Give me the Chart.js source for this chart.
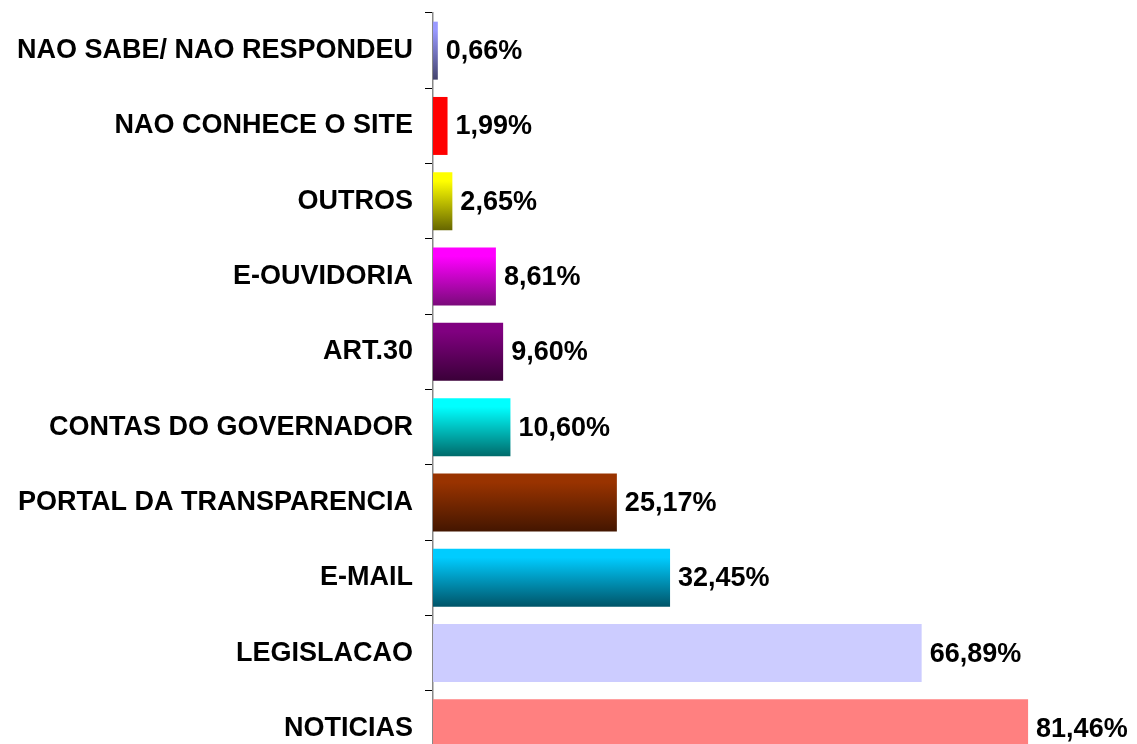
<!DOCTYPE html>
<html>
<head>
<meta charset="utf-8">
<script src="https://cdn.jsdelivr.net/npm/chart.js@4"></script>
<style>
  html, body { margin: 0; padding: 0; background: #fff; overflow: hidden; }
</style>
</head>
<body>
<canvas id="barChart" width="1137" height="766"></canvas>
<script>
let categories = [
    "NAO SABE/ NAO RESPONDEU",
    "NAO CONHECE O SITE",
    "OUTROS",
    "E-OUVIDORIA",
    "ART.30",
    "CONTAS DO GOVERNADOR",
    "PORTAL DA TRANSPARENCIA",
    "E-MAIL",
    "LEGISLACAO",
    "NOTICIAS"
];

let percentValues = [0.66, 1.99, 2.65, 8.61, 9.60, 10.60, 25.17, 32.45, 66.89, 81.46];

// cor de cima / cor de baixo de cada barra
let topColors = ["#9a9aff", "#ff0000", "#ffff00", "#ff00ff", "#800080", "#00ffff", "#993300", "#00ccff", "#ccccff", "#ff8080"];
let bottomColors = ["#44446e", "#ff0000", "#666600", "#7a0a7a", "#3a0038", "#006b6b", "#441600", "#005468", "#ccccff", "#ff8080"];

function barColor(context) {
    let chart = context.chart;
    let i = context.dataIndex;
    let area = chart.chartArea;
    if (!area || topColors[i] == bottomColors[i]) {
        return topColors[i];
    }
    let yScale = chart.scales.y;
    let band = (area.bottom - area.top) / categories.length;
    let center = yScale.getPixelForValue(i);
    let half = band * 0.77 / 2;
    let grad = chart.ctx.createLinearGradient(0, center - half, 0, center + half);
    grad.addColorStop(0, topColors[i]);
    grad.addColorStop(0.15, topColors[i]);
    grad.addColorStop(1, bottomColors[i]);
    return grad;
}

// rotulos de valor ao lado das barras
const valueLabels = {
    id: "valueLabels",
    afterDatasetsDraw(chart) {
        let ctx = chart.ctx;
        let meta = chart.getDatasetMeta(0);
        ctx.save();
        ctx.font = "bold 27px 'Liberation Sans', Arial, sans-serif";
        ctx.fillStyle = "#000";
        ctx.textAlign = "left";
        ctx.textBaseline = "middle";
        meta.data.forEach((bar, i) => {
            let text = percentValues[i].toFixed(2).replace(".", ",") + "%";
            ctx.fillText(text, bar.x + 8, bar.y + 1);
        });
        ctx.restore();
    }
};

const bar = document.getElementById("barChart");

new Chart(bar, {
    type: 'bar',
    data: {
        labels: categories,
        datasets: [{
            data: percentValues,
            backgroundColor: barColor,
            borderWidth: 0,
            barPercentage: 0.77,
            categoryPercentage: 1
        }]
    },
    options: {
        indexAxis: 'y',
        responsive: false,
        animation: false,
        devicePixelRatio: 1,
        layout: {
            padding: { top: 13, right: 10, bottom: 0, left: 0 }
        },
        plugins: {
            legend: { display: false },
            tooltip: { enabled: false }
        },
        scales: {
            x: {
                display: false,
                min: 0,
                max: 95
            },
            y: {
                afterFit(scale) {
                    scale.width = 433;
                    scale.paddingTop = 0;
                    scale.paddingBottom = 0;
                },
                grid: {
                    drawOnChartArea: false,
                    drawTicks: true,
                    tickLength: 8,
                    color: "#000",
                    offset: true
                },
                border: {
                    display: true,
                    color: "#888",
                    width: 1.5
                },
                ticks: {
                    padding: 12,
                    color: "#000",
                    font: {
                        family: "'Liberation Sans', Arial, sans-serif",
                        size: 27,
                        weight: "bold"
                    }
                }
            }
        }
    },
    plugins: [valueLabels]
});
</script>
</body>
</html>
